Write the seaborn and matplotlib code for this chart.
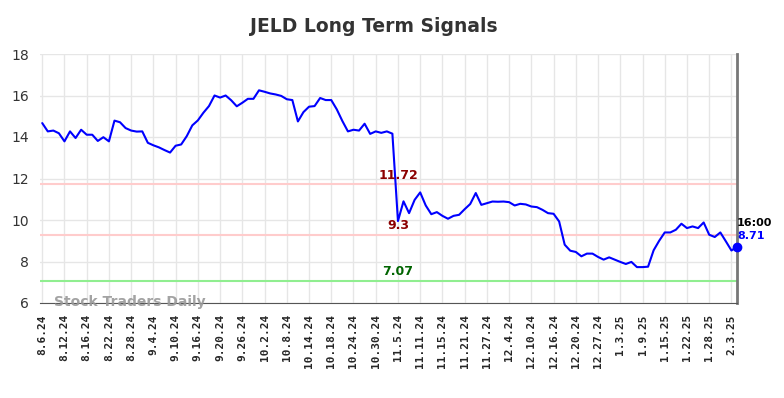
import numpy as np
import pandas as pd
import matplotlib
matplotlib.use("Agg")
import matplotlib.pyplot as plt
import seaborn as sns

# JELD closing prices, one value per trading day (8.6.24 .. 2.4.25)
prices = [14.67, 14.27, 14.31, 14.18, 13.79, 14.27, 13.95, 14.35, 14.11, 14.11,
          13.81, 13.99, 13.79, 14.79, 14.71, 14.43, 14.31, 14.26, 14.27, 13.72,
          13.6, 13.5, 13.37, 13.25, 13.58, 13.64, 14.04, 14.56, 14.8, 15.17,
          15.49, 16.0, 15.9, 16.0, 15.77, 15.48, 15.65, 15.84, 15.84, 16.25,
          16.18, 16.1, 16.05, 15.98, 15.82, 15.78, 14.75, 15.2, 15.46, 15.49,
          15.88, 15.78, 15.78, 15.33, 14.77, 14.27, 14.35, 14.31, 14.64, 14.15,
          14.27, 14.2, 14.27, 14.16, 9.95, 10.9, 10.33, 10.97, 11.33, 10.7,
          10.28, 10.38, 10.2, 10.06, 10.2, 10.25, 10.52, 10.77, 11.3, 10.73,
          10.81, 10.89, 10.88, 10.89, 10.86, 10.7, 10.78, 10.75, 10.65, 10.62,
          10.49, 10.33, 10.3, 9.93, 8.81, 8.52, 8.46, 8.25, 8.38, 8.38,
          8.22, 8.09, 8.2, 8.09, 7.98, 7.88, 7.98, 7.73, 7.73, 7.75,
          8.54, 9.0, 9.4, 9.4, 9.53, 9.82, 9.61, 9.69, 9.61, 9.88,
          9.29, 9.18, 9.4, 8.97, 8.53, 8.71]

tick_labels = ['8.6.24', '8.12.24', '8.16.24', '8.22.24', '8.28.24', '9.4.24',
               '9.10.24', '9.16.24', '9.20.24', '9.26.24', '10.2.24', '10.8.24',
               '10.14.24', '10.18.24', '10.24.24', '10.30.24', '11.5.24',
               '11.11.24', '11.15.24', '11.21.24', '11.27.24', '12.4.24',
               '12.10.24', '12.16.24', '12.20.24', '12.27.24', '1.3.25', '1.9.25',
               '1.15.25', '1.22.25', '1.28.25', '2.3.25']
tick_step = 4

resistance = [11.72, 9.3]
support = [7.07]
last_time = '16:00'

df = pd.DataFrame({'day': np.arange(len(prices)), 'price': prices})

sns.set_style('white')
fig = plt.figure(figsize=(7.84, 3.98), dpi=100)
ax = fig.add_axes([40 / 784, 1 - 303 / 398, 697 / 784, 249 / 398])

sns.lineplot(data=df, x='day', y='price', ax=ax, color='#0000ff', linewidth=1.5)

# signal levels
for lvl in resistance:
    ax.axhline(lvl, color='#ffcccc', linewidth=1.5, zorder=1)
    ax.text(64, lvl + 0.12, str(lvl), color='#8b0000', fontsize=9,
            fontweight='bold', ha='center', va='bottom')
for lvl in support:
    ax.axhline(lvl, color='#90ee90', linewidth=1.5, zorder=1)
    ax.text(64, lvl + 0.12, str(lvl), color='#006400', fontsize=9,
            fontweight='bold', ha='center', va='bottom')

# last point
last_x = df['day'].iloc[-1]
last_y = df['price'].iloc[-1]
ax.scatter([last_x], [last_y], color='#0000ff', s=36, zorder=5, clip_on=False)
ax.annotate(last_time, (last_x, last_y), xytext=(0, 17), textcoords='offset points',
            fontsize=8, fontweight='bold', color='black', va='center')
ax.annotate(f'{last_y}', (last_x, last_y), xytext=(0, 8), textcoords='offset points',
            fontsize=8, fontweight='bold', color='#0000ff', va='center')

ax.set_xlim(-0.4, len(prices) - 1)
ax.set_ylim(6, 18)
ax.set_yticks(range(6, 19, 2))
ax.set_xticks(np.arange(len(tick_labels)) * tick_step)
ax.set_xticklabels(tick_labels, rotation=90, family='DejaVu Sans Mono',
                   fontweight='bold', fontsize=8)
ax.tick_params(axis='y', labelsize=10, labelcolor='#333333', length=0, pad=8)
ax.tick_params(axis='x', length=0, pad=8)
ax.grid(True, color='#e6e6e6', linewidth=1)
ax.set_axisbelow(True)
ax.set_xlabel('')
ax.set_ylabel('')

for side in ['top', 'left']:
    ax.spines[side].set_visible(False)
ax.spines['bottom'].set_color('#555555')
ax.spines['right'].set_color('#777777')
ax.spines['right'].set_linewidth(2)

ax.text(2.2, 6.05, 'Stock Traders Daily', color='#999999', fontsize=10,
        fontweight='bold', ha='left', va='center', alpha=0.9)

fig.text(374 / 784, 1 - 27 / 398, 'JELD Long Term Signals', fontsize=13.5,
         fontweight='bold', color='#333333', ha='center', va='center')

fig.savefig('out.png', dpi=100)
